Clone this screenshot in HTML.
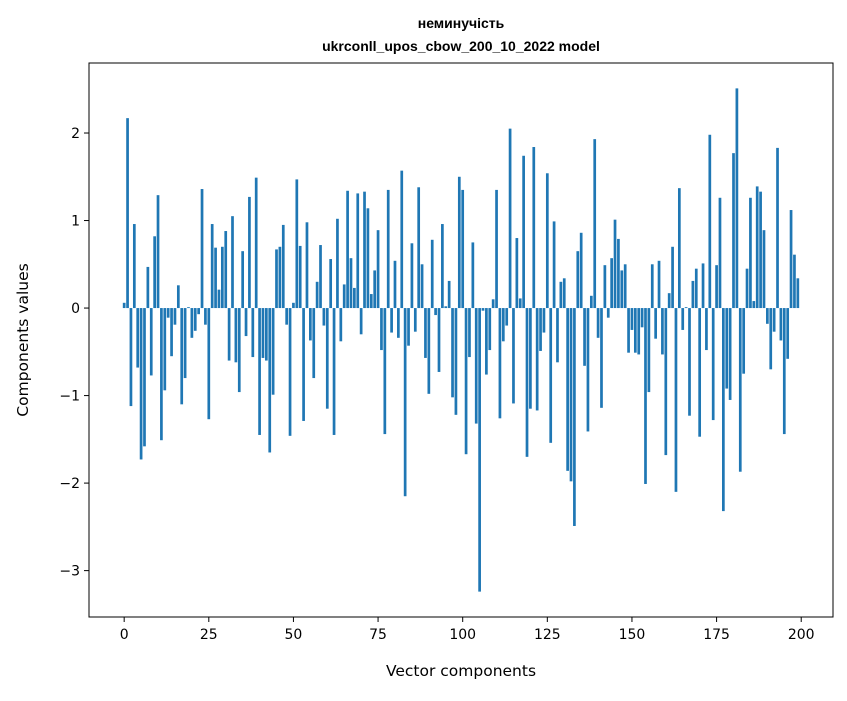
<!DOCTYPE html>
<html><head><meta charset="utf-8"><style>
body{margin:0;background:#fff;}
svg text{font-family:"DejaVu Sans","Liberation Sans",sans-serif;fill:#000;}
svg text.title{font-family:"Liberation Sans","DejaVu Sans",sans-serif;}
</style></head><body>
<svg id="chart" width="847" height="696" xmlns="http://www.w3.org/2000/svg">
<rect width="847" height="696" fill="#fff"/>
<text class="title" x="461" y="28" text-anchor="middle" font-size="14" font-weight="bold">неминучість</text>
<text class="title" x="461" y="51" text-anchor="middle" font-size="14" font-weight="bold">ukrconll_upos_cbow_200_10_2022 model</text>
<g id="bars"></g>
<g id="axes"></g>
<text x="461" y="676" text-anchor="middle" font-size="15.5">Vector components</text>
<text x="0" y="0" transform="translate(28,340) rotate(-90)" text-anchor="middle" font-size="15.5">Components values</text>
</svg>
<script>
const values = [0.06,2.17,-1.12,0.96,-0.68,-1.73,-1.58,0.47,-0.77,0.82,
1.29,-1.51,-0.94,-0.11,-0.55,-0.19,0.26,-1.1,-0.8,0.01,
-0.34,-0.26,-0.07,1.36,-0.19,-1.27,0.96,0.69,0.21,0.7,
0.88,-0.6,1.05,-0.62,-0.96,0.65,-0.32,1.27,-0.56,1.49,
-1.45,-0.57,-0.6,-1.65,-0.99,0.67,0.7,0.95,-0.19,-1.46,
0.06,1.47,0.71,-1.29,0.98,-0.37,-0.8,0.3,0.72,-0.2,
-1.15,0.56,-1.45,1.02,-0.38,0.27,1.34,0.57,0.23,1.31,
-0.3,1.33,1.14,0.16,0.43,0.89,-0.48,-1.44,1.35,-0.28,
0.54,-0.34,1.57,-2.15,-0.43,0.74,-0.27,1.38,0.5,-0.57,
-0.98,0.78,-0.08,-0.73,0.96,0.02,0.31,-1.02,-1.22,1.5,
1.35,-1.67,-0.56,0.75,-1.32,-3.24,-0.03,-0.76,-0.48,0.1,
1.35,-1.26,-0.38,-0.2,2.05,-1.09,0.8,0.11,1.74,-1.7,
-1.15,1.84,-1.17,-0.49,-0.28,1.54,-1.54,0.99,-0.62,0.3,
0.34,-1.86,-1.98,-2.49,0.65,0.86,-0.66,-1.41,0.14,1.93,
-0.34,-1.14,0.49,-0.11,0.57,1.01,0.79,0.43,0.5,-0.51,
-0.25,-0.51,-0.53,-0.22,-2.01,-0.96,0.5,-0.35,0.54,-0.53,
-1.68,0.17,0.7,-2.1,1.37,-0.25,0.01,-1.23,0.31,0.45,
-1.47,0.51,-0.48,1.98,-1.28,0.49,1.26,-2.32,-0.92,-1.05,
1.77,2.51,-1.87,-0.75,0.45,1.26,0.08,1.39,1.33,0.89,
-0.18,-0.7,-0.27,1.83,-0.37,-1.44,-0.58,1.12,0.61,0.34];
const xTicks = [0,25,50,75,100,125,150,175,200];
const yTicks = [-3,-2,-1,0,1,2];
const yTickLabels = ["\u22123","\u22122","\u22121","0","1","2"];

const L=89,R=833,T=63,B=617;
const xMin=-10.39,xMax=209.39,yMin=-3.53,yMax=2.80;
const sx=v=>L+(v-xMin)/(xMax-xMin)*(R-L);
const sy=v=>B-(v-yMin)/(yMax-yMin)*(B-T);
const NS="http://www.w3.org/2000/svg";
const bars=document.getElementById('bars');
values.forEach((v,i)=>{
  const r=document.createElementNS(NS,'rect');
  const x0=sx(i-0.4),x1=sx(i+0.4);
  const y0=sy(Math.max(v,0)),y1=sy(Math.min(v,0));
  r.setAttribute('x',x0);r.setAttribute('width',x1-x0);
  r.setAttribute('y',y0);r.setAttribute('height',Math.max(y1-y0,0.3));
  r.setAttribute('fill','#1f77b4');
  
  
  bars.appendChild(r);
});
const ax=document.getElementById('axes');
const frame=document.createElementNS(NS,'rect');
frame.setAttribute('x',L);frame.setAttribute('y',T);frame.setAttribute('width',R-L);frame.setAttribute('height',B-T);
frame.setAttribute('fill','none');frame.setAttribute('stroke','#000');frame.setAttribute('stroke-width','1');


ax.appendChild(frame);
xTicks.forEach(t=>{
  const x=sx(t);
  const l=document.createElementNS(NS,'line');
  l.setAttribute('x1',x);l.setAttribute('x2',x);l.setAttribute('y1',B);l.setAttribute('y2',B+5);l.setAttribute('stroke','#000');
  
  
  ax.appendChild(l);
  const tx=document.createElementNS(NS,'text');
  tx.setAttribute('x',x);tx.setAttribute('y',B+22);tx.setAttribute('text-anchor','middle');tx.setAttribute('font-size','14');
  tx.textContent=t;
  
  
  ax.appendChild(tx);
});
yTicks.forEach((t,i)=>{
  const y=sy(t);
  const l=document.createElementNS(NS,'line');
  l.setAttribute('x1',L-5);l.setAttribute('x2',L);l.setAttribute('y1',y);l.setAttribute('y2',y);l.setAttribute('stroke','#000');
  
  
  ax.appendChild(l);
  const tx=document.createElementNS(NS,'text');
  tx.setAttribute('x',L-9);tx.setAttribute('y',y+5);tx.setAttribute('text-anchor','end');tx.setAttribute('font-size','14');
  tx.textContent=yTickLabels[i];
  
  
  ax.appendChild(tx);
});
</script>
</body></html>
